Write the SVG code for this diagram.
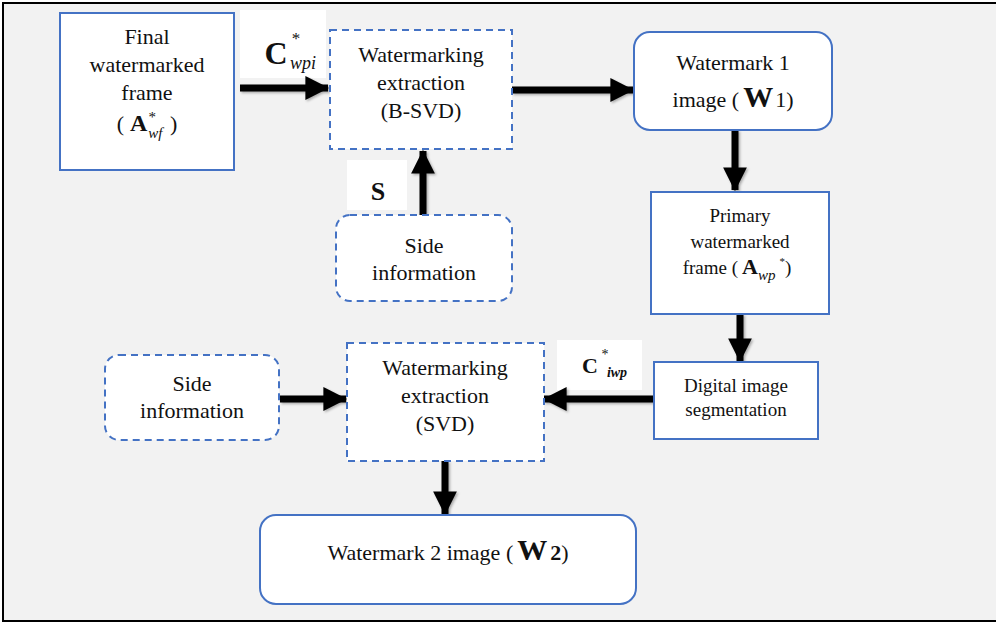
<svg xmlns="http://www.w3.org/2000/svg" width="998" height="624" viewBox="0 0 998 624" font-family="Liberation Serif, Times New Roman, serif">
  <style>
    text { fill: #111; text-anchor: middle; }
    .t22 { font-size: 22px; }
    .t19 { font-size: 19px; }
    .solid { fill: #ffffff; stroke: #4472c4; stroke-width: 2; }
    .dash { fill: #ffffff; stroke: #4472c4; stroke-width: 2; stroke-dasharray: 7 5; }
    .lbl { fill: #ffffff; stroke: none; }
    .conn { stroke: #000; stroke-width: 7; fill: none; marker-end: url(#head); }
    .b { font-weight: bold; }
    .i { font-style: italic; }
  </style>
  <defs>
    <marker id="head" viewBox="0 0 10 10" refX="9.5" refY="5" markerWidth="3.4" markerHeight="3.4" orient="auto" markerUnits="strokeWidth">
      <path d="M0,0 L10,5 L0,10 Z" fill="#000"/>
    </marker>
    <filter id="shadow" filterUnits="userSpaceOnUse" x="0" y="0" width="998" height="624">
      <feDropShadow dx="1.5" dy="1.5" stdDeviation="1.2" flood-color="#000" flood-opacity="0.3"/>
    </filter>
  </defs>

  <!-- canvas and frame -->
  <rect x="0" y="0" width="998" height="624" fill="#ffffff"/>
  <rect x="3" y="3" width="993" height="618" fill="#f2f2f2"/>
  <path d="M996,3 H3 V621 H996" fill="none" stroke="#000" stroke-width="2"/>

  <!-- edge labels backgrounds -->
  <rect class="lbl" x="240" y="10" width="86" height="68"/>
  <rect class="lbl" x="347" y="160" width="60" height="50"/>
  <rect class="lbl" x="557" y="340" width="85" height="50"/>

  <!-- connectors -->
  <g id="connectors" filter="url(#shadow)">
    <line class="conn" x1="240" y1="88" x2="328" y2="88"/>
    <line class="conn" x1="512" y1="90" x2="633" y2="90"/>
    <line class="conn" x1="735" y1="130" x2="735" y2="190"/>
    <line class="conn" x1="740" y1="314" x2="740" y2="361"/>
    <line class="conn" x1="654" y1="399" x2="544" y2="399"/>
    <line class="conn" x1="280" y1="399" x2="346" y2="399"/>
    <line class="conn" x1="445" y1="461" x2="445" y2="514"/>
    <line class="conn" x1="423" y1="215" x2="423" y2="151"/>
  </g>

  <!-- edge labels -->
  <g id="label-cwpi">
    <text x="276" y="64" font-size="32" class="b">C</text>
    <text x="296" y="44" font-size="17">*</text>
    <text x="303" y="69" font-size="18" class="i">wpi</text>
  </g>
  <g id="label-s">
    <text x="378" y="200" font-size="26" class="b">S</text>
  </g>
  <g id="label-ciwp">
    <text x="590" y="373" font-size="22" class="b">C</text>
    <text x="605" y="359" font-size="14">*</text>
    <text x="617" y="377" font-size="14" class="b i">iwp</text>
  </g>

  <!-- nodes -->
  <g id="final-frame">
    <rect class="solid" x="60" y="13" width="174" height="157"/>
    <text class="t22" x="147" y="44">Final</text>
    <text class="t22" x="147" y="72">watermarked</text>
    <text class="t22" x="147" y="100">frame</text>
    <text x="147" y="131" class="t22"><tspan>(</tspan><tspan dx="6" font-size="24" class="b">A</tspan><tspan dx="1" dy="7" font-size="15" class="i">wf</tspan><tspan dx="-14" dy="-16" font-size="15">*</tspan><tspan dx="14" dy="9">)</tspan></text>
  </g>

  <g id="bsvd">
    <rect class="dash" x="330" y="30" width="182" height="119"/>
    <text class="t22" x="421" y="62">Watermarking</text>
    <text class="t22" x="421" y="90">extraction</text>
    <text class="t22" x="421" y="118">(B-SVD)</text>
  </g>

  <g id="side-info-top">
    <rect class="dash" x="336" y="215" width="176" height="86" rx="14"/>
    <text class="t22" x="424" y="253">Side</text>
    <text class="t22" x="424" y="280">information</text>
  </g>

  <g id="watermark1">
    <rect class="solid" x="634" y="32" width="198" height="98" rx="16"/>
    <text class="t22" x="733" y="70">Watermark 1</text>
    <text x="733" y="107" class="t22">image (<tspan dx="4" font-size="30" class="b">W</tspan><tspan dx="2">1)</tspan></text>
  </g>

  <g id="primary-frame">
    <rect class="solid" x="651" y="192" width="178" height="122"/>
    <text class="t19" x="740" y="222">Primary</text>
    <text class="t19" x="740" y="248">watermarked</text>
    <text x="737" y="274" class="t19">frame (<tspan dx="4" font-size="22" class="b">A</tspan><tspan dy="6" font-size="15" class="i">wp</tspan><tspan dx="4" dy="-15" font-size="11">*</tspan><tspan dy="9">)</tspan></text>
  </g>

  <g id="segmentation">
    <rect class="solid" x="654" y="362" width="164" height="77"/>
    <text class="t19" x="736" y="392">Digital image</text>
    <text class="t19" x="736" y="416">segmentation</text>
  </g>

  <g id="svd">
    <rect class="dash" x="347" y="343" width="197" height="118"/>
    <text class="t22" x="445" y="375">Watermarking</text>
    <text class="t22" x="445" y="403">extraction</text>
    <text class="t22" x="445" y="431">(SVD)</text>
  </g>

  <g id="side-info-left">
    <rect class="dash" x="105" y="355" width="174" height="85" rx="14"/>
    <text class="t22" x="192" y="391">Side</text>
    <text class="t22" x="192" y="418">information</text>
  </g>

  <g id="watermark2">
    <rect class="solid" x="260" y="515" width="376" height="89" rx="16"/>
    <text x="448" y="560" class="t22">Watermark 2 image (<tspan dx="4" font-size="30" class="b">W</tspan><tspan dx="3" class="b">2</tspan><tspan>)</tspan></text>
  </g>
</svg>
